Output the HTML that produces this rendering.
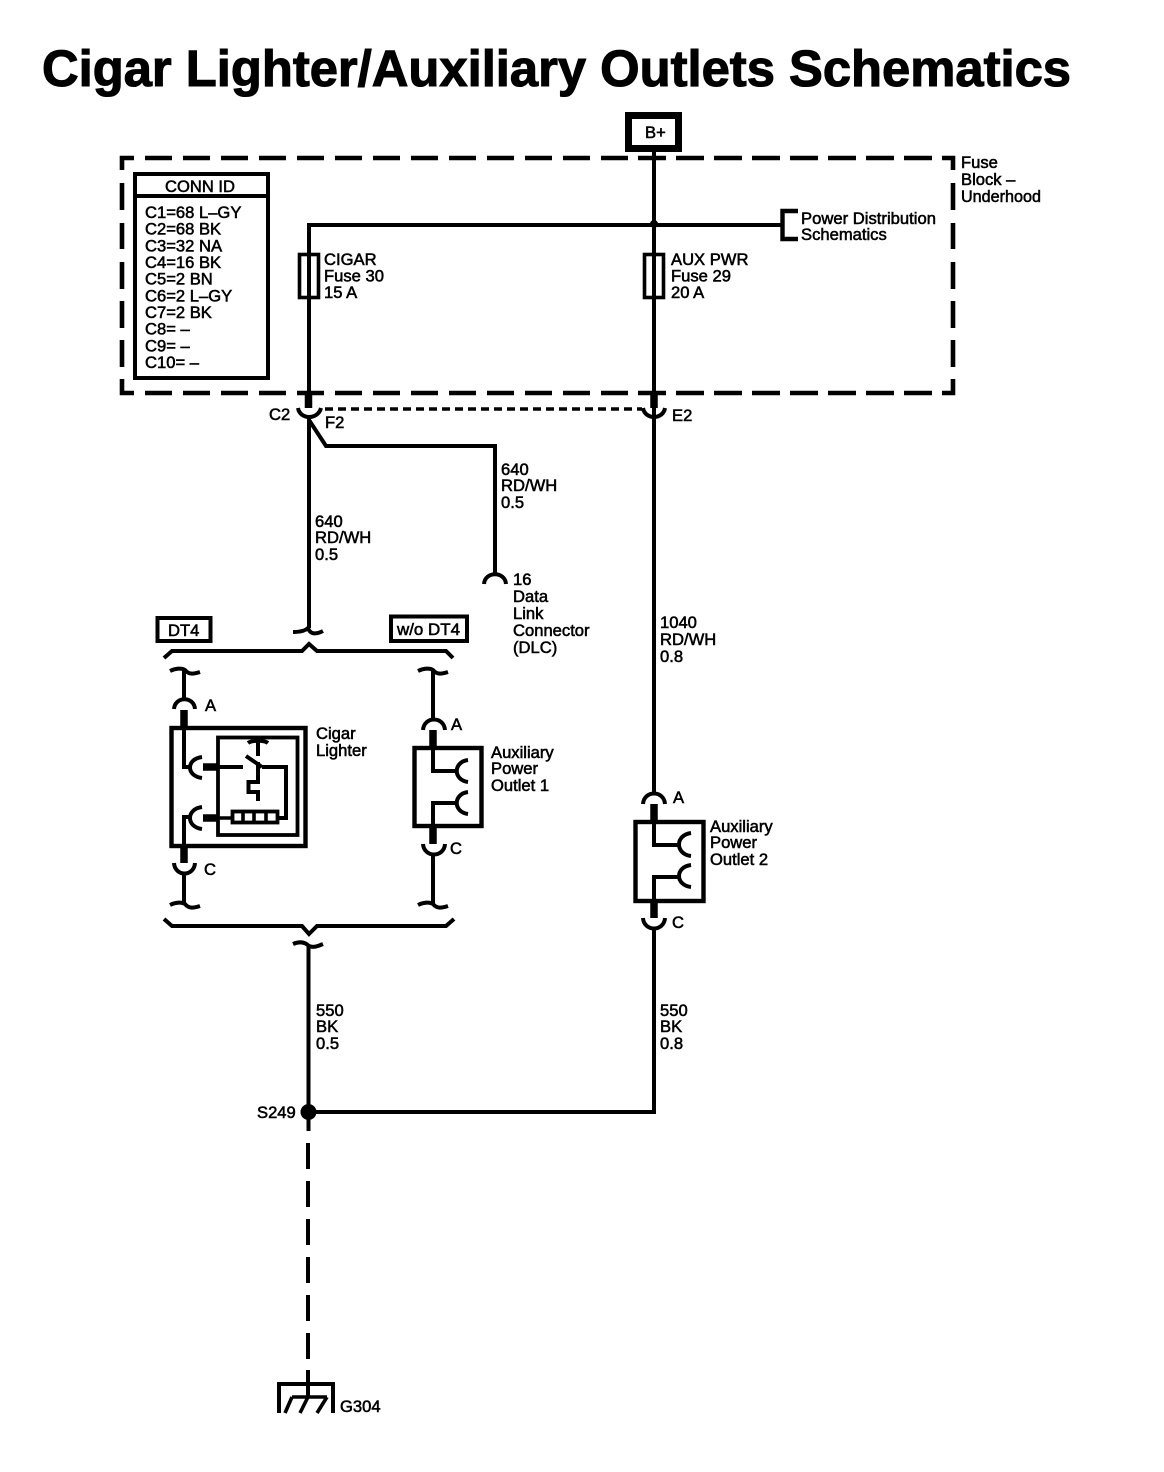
<!DOCTYPE html>
<html><head><meta charset="utf-8"><style>
html,body{margin:0;padding:0;background:#fff}
svg{display:block}
text{font-family:"Liberation Sans",Arial,sans-serif;font-size:16.6px;fill:#000;stroke:#000;stroke-width:.55px}
.w{fill:none;stroke:#000;stroke-width:4}
.n{fill:none;stroke:#000;stroke-width:3.6}
.t{fill:none;stroke:#000;stroke-width:7.500}
</style></head><body>
<svg width="1164" height="1472" viewBox="0 0 1164 1472" xmlns="http://www.w3.org/2000/svg">
<rect width="1164" height="1472" fill="#fff"/>
<text x="42" y="86" textLength="1029" lengthAdjust="spacingAndGlyphs" style="font-size:51px;font-weight:bold;stroke-width:1.1px">Cigar Lighter/Auxiliary Outlets Schematics</text>

<!-- dashed fuse block -->
<g fill="none" stroke="#000" stroke-width="4.6">
<path d="M134 158H122V170M145 158H172M183 158H210M221 158H248M259 158H286M297 158H324M335 158H362M373 158H400M411 158H438M449 158H476M487 158H514M525 158H552M563 158H590M601 158H628M638 158H666M676 158H704M714 158H742M752 158H780M790 158H818M828 158H856M866 158H894M904 158H932M942 158H953V170"/>
<path d="M134 393H122V379M145 393H172M183 393H210M221 393H248M259 393H286M297 393H324M335 393H362M373 393H400M411 393H438M449 393H476M487 393H514M525 393H552M563 393H590M601 393H628M638 393H666M676 393H704M714 393H742M752 393H780M790 393H818M828 393H856M866 393H894M904 393H932M942 393H953V379"/>
<path d="M122 183V210M122 223V249M122 262V289M122 301V328M122 340V367"/>
<path d="M953 183V210M953 223V249M953 262V289M953 301V328M953 340V367"/>
</g>
<text x="961" y="168">Fuse</text>
<text x="961" y="185">Block –</text>
<text x="961" y="202" textLength="80" lengthAdjust="spacingAndGlyphs">Underhood</text>

<!-- CONN ID -->
<rect x="135" y="174" width="133" height="204" fill="none" stroke="#000" stroke-width="4"/>
<path d="M135 196H268" class="w"/>
<text x="165" y="192" textLength="70" lengthAdjust="spacingAndGlyphs">CONN ID</text>
<text x="145" y="218">C1=68 L–GY</text>
<text x="145" y="234.7">C2=68 BK</text>
<text x="145" y="251.3">C3=32 NA</text>
<text x="145" y="268">C4=16 BK</text>
<text x="145" y="284.7">C5=2 BN</text>
<text x="145" y="301.3">C6=2 L–GY</text>
<text x="145" y="318">C7=2 BK</text>
<text x="145" y="334.7">C8= –</text>
<text x="145" y="351.3">C9= –</text>
<text x="145" y="368">C10= –</text>

<!-- B+ -->
<rect x="628.5" y="115.5" width="50" height="33" fill="#fff" stroke="#000" stroke-width="7"/>
<text x="645" y="138">B+</text>

<!-- top wiring -->
<path class="w" d="M654 149V408M309 396V225M307 225H782"/>
<circle cx="654" cy="224" r="4" fill="#000"/>
<path d="M798 211H782.5V239H798" fill="none" stroke="#000" stroke-width="4.4"/>
<text x="801" y="224" textLength="135" lengthAdjust="spacingAndGlyphs">Power Distribution</text>
<text x="801" y="240">Schematics</text>

<!-- fuses -->
<rect x="299.5" y="254.5" width="19" height="43" fill="none" stroke="#000" stroke-width="3.6"/>
<rect x="644.5" y="254.5" width="19" height="43" fill="none" stroke="#000" stroke-width="3.6"/>
<text x="324" y="265">CIGAR</text><text x="324" y="281.7">Fuse 30</text><text x="324" y="298">15 A</text>
<text x="671" y="265">AUX PWR</text><text x="671" y="281.7">Fuse 29</text><text x="671" y="298">20 A</text>

<!-- C2 / E2 connectors -->
<path class="t" d="M308.5 393V408M654 393V408"/>
<path class="w" d="M298 408C300 420 318 420 321 408M643 408C645 420 663 420 665 408"/>
<path d="M325 409H642" fill="none" stroke="#000" stroke-width="3.4" stroke-dasharray="8 5"/>
<text x="269" y="420">C2</text><text x="325" y="428">F2</text><text x="672" y="421">E2</text>

<!-- branch to DLC -->
<path class="w" d="M309 418V628M309 420L326 446H495V574"/>
<path class="w" d="M484 584C485 571 505 571 506 584"/>
<text x="501" y="475">640</text><text x="501" y="491">RD/WH</text><text x="501" y="508">0.5</text>
<text x="315" y="527">640</text><text x="315" y="543">RD/WH</text><text x="315" y="560">0.5</text>
<text x="513" y="585">16</text><text x="513" y="602">Data</text><text x="513" y="619">Link</text><text x="513" y="636">Connector</text><text x="513" y="653">(DLC)</text>

<!-- top break + brace -->
<path class="w" d="M293 632C300 632 305 631 308 628C310 634 315 635 323 631"/>
<path class="w" d="M164 658L172 651H302L309 644L317 651H446L453 658"/>
<rect x="157.500" y="618" width="53" height="23" fill="none" stroke="#000" stroke-width="4"/>
<text x="168" y="636">DT4</text>
<rect x="391" y="616.500" width="76" height="24.500" fill="none" stroke="#000" stroke-width="4"/>
<text x="397" y="635" textLength="63" lengthAdjust="spacingAndGlyphs">w/o DT4</text>

<!-- Cigar lighter -->
<path class="w" d="M170 671C176 668 182 668 185 670C189 675 194 674 200 672"/>
<path class="w" d="M184 670V700"/>
<path class="w" d="M174 709C175 696 194 696 195 709"/>
<path class="t" d="M184 710V727"/>
<rect x="171.500" y="728" width="134" height="118" fill="none" stroke="#000" stroke-width="4.400"/>
<rect x="218" y="737.500" width="79.500" height="97.500" fill="none" stroke="#000" stroke-width="3.800"/>
<path class="w" d="M184 727V767H192"/>
<path class="w" d="M202 757C186 759 186 776 202 778"/>
<path class="t" d="M203 767H218"/>
<path class="w" d="M218 767H243M246 756L262 767M258 742V756M258 762V782H248.500V792H258V801M262 767H286V818H278"/>
<path class="w" d="M248 743C252 740 264 740 268 743"/>
<rect x="232.500" y="811.500" width="45" height="11" fill="none" stroke="#000" stroke-width="3.800"/>
<path class="n" d="M243 811V823M254 811V823M266 811V823M218 818H232"/>
<path class="t" d="M203 818H218"/>
<path class="w" d="M202 807C186 809 186 827 202 829"/>
<path class="w" d="M192 817H184V847"/>
<path class="t" d="M184 847V863"/>
<path class="w" d="M174 863C175 877 194 877 195 863"/>
<path class="w" d="M184 873V905M170 905C176 902 182 902 185 904C189 909 194 908 200 906"/>
<text x="205" y="711">A</text><text x="204" y="875">C</text>
<text x="316" y="739">Cigar</text><text x="316" y="756">Lighter</text>

<!-- Aux outlet 1 -->
<path class="w" d="M418 671C424 668 430 668 433 670C437 675 442 674 448 672M433 670V720"/>
<path class="w" d="M423 730C424 716 444 716 445 730"/>
<path class="t" d="M433 730V747"/>
<rect x="414.500" y="748" width="67" height="78" fill="none" stroke="#000" stroke-width="4.400"/>
<path class="w" d="M433 747V771H458M458 803H433V827"/>
<path class="w" d="M468 760C453 762 453 780 468 782M468 792C453 794 453 812 468 814"/>
<path class="t" d="M433 827V844"/>
<path class="w" d="M423 844C424 858 444 858 445 844"/>
<path class="w" d="M433 854V905M418 905C424 902 430 902 433 904C437 909 442 908 448 906"/>
<text x="451" y="730">A</text><text x="450" y="854">C</text>
<text x="491" y="758">Auxiliary</text><text x="491" y="774">Power</text><text x="491" y="791">Outlet 1</text>

<!-- bottom brace -->
<path class="w" d="M164 919L172 926H302L309 934L317 926H446L454 919"/>
<path class="w" d="M293 944C300 941 305 942 309 946C314 948 318 946 323 944"/>

<!-- Main right wire + aux outlet 2 -->
<path class="w" d="M654 408V794"/>
<path class="w" d="M643 804C644 790 664 790 665 804"/>
<path class="t" d="M654 804V822"/>
<rect x="635.500" y="822" width="68" height="79" fill="none" stroke="#000" stroke-width="4.400"/>
<path class="w" d="M654 822V845H679M679 877H654V902"/>
<path class="w" d="M691 833C675 835 675 854 691 856M691 865C675 867 675 885 691 887"/>
<path class="t" d="M654 902V918"/>
<path class="w" d="M643 918C644 932 664 932 665 918"/>
<path class="w" d="M654 928V1112"/>
<text x="673" y="803">A</text><text x="672" y="928">C</text>
<text x="710" y="832">Auxiliary</text><text x="710" y="848">Power</text><text x="710" y="865">Outlet 2</text>
<text x="660" y="628">1040</text><text x="660" y="645">RD/WH</text><text x="660" y="662">0.8</text>
<text x="660" y="1016">550</text><text x="660" y="1032">BK</text><text x="660" y="1049">0.8</text>
<text x="316" y="1016">550</text><text x="316" y="1032">BK</text><text x="316" y="1049">0.5</text>

<!-- S249 and ground -->
<path class="w" d="M308.500 945V1131M308 1112H656"/>
<circle cx="308.500" cy="1112" r="8" fill="#000"/>
<text x="257" y="1118">S249</text>
<path class="w" d="M308 1143V1169M308 1181V1207M308 1219V1245M308 1257V1283M308 1295V1321M308 1333V1359M308 1370V1397"/>
<path class="w" d="M279 1413V1384H333V1413"/>
<path class="n" d="M292 1397H327M292 1397L285 1413M308 1397L300 1413M327 1397L317 1413"/>
<text x="340" y="1412">G304</text>
</svg>
</body></html>
